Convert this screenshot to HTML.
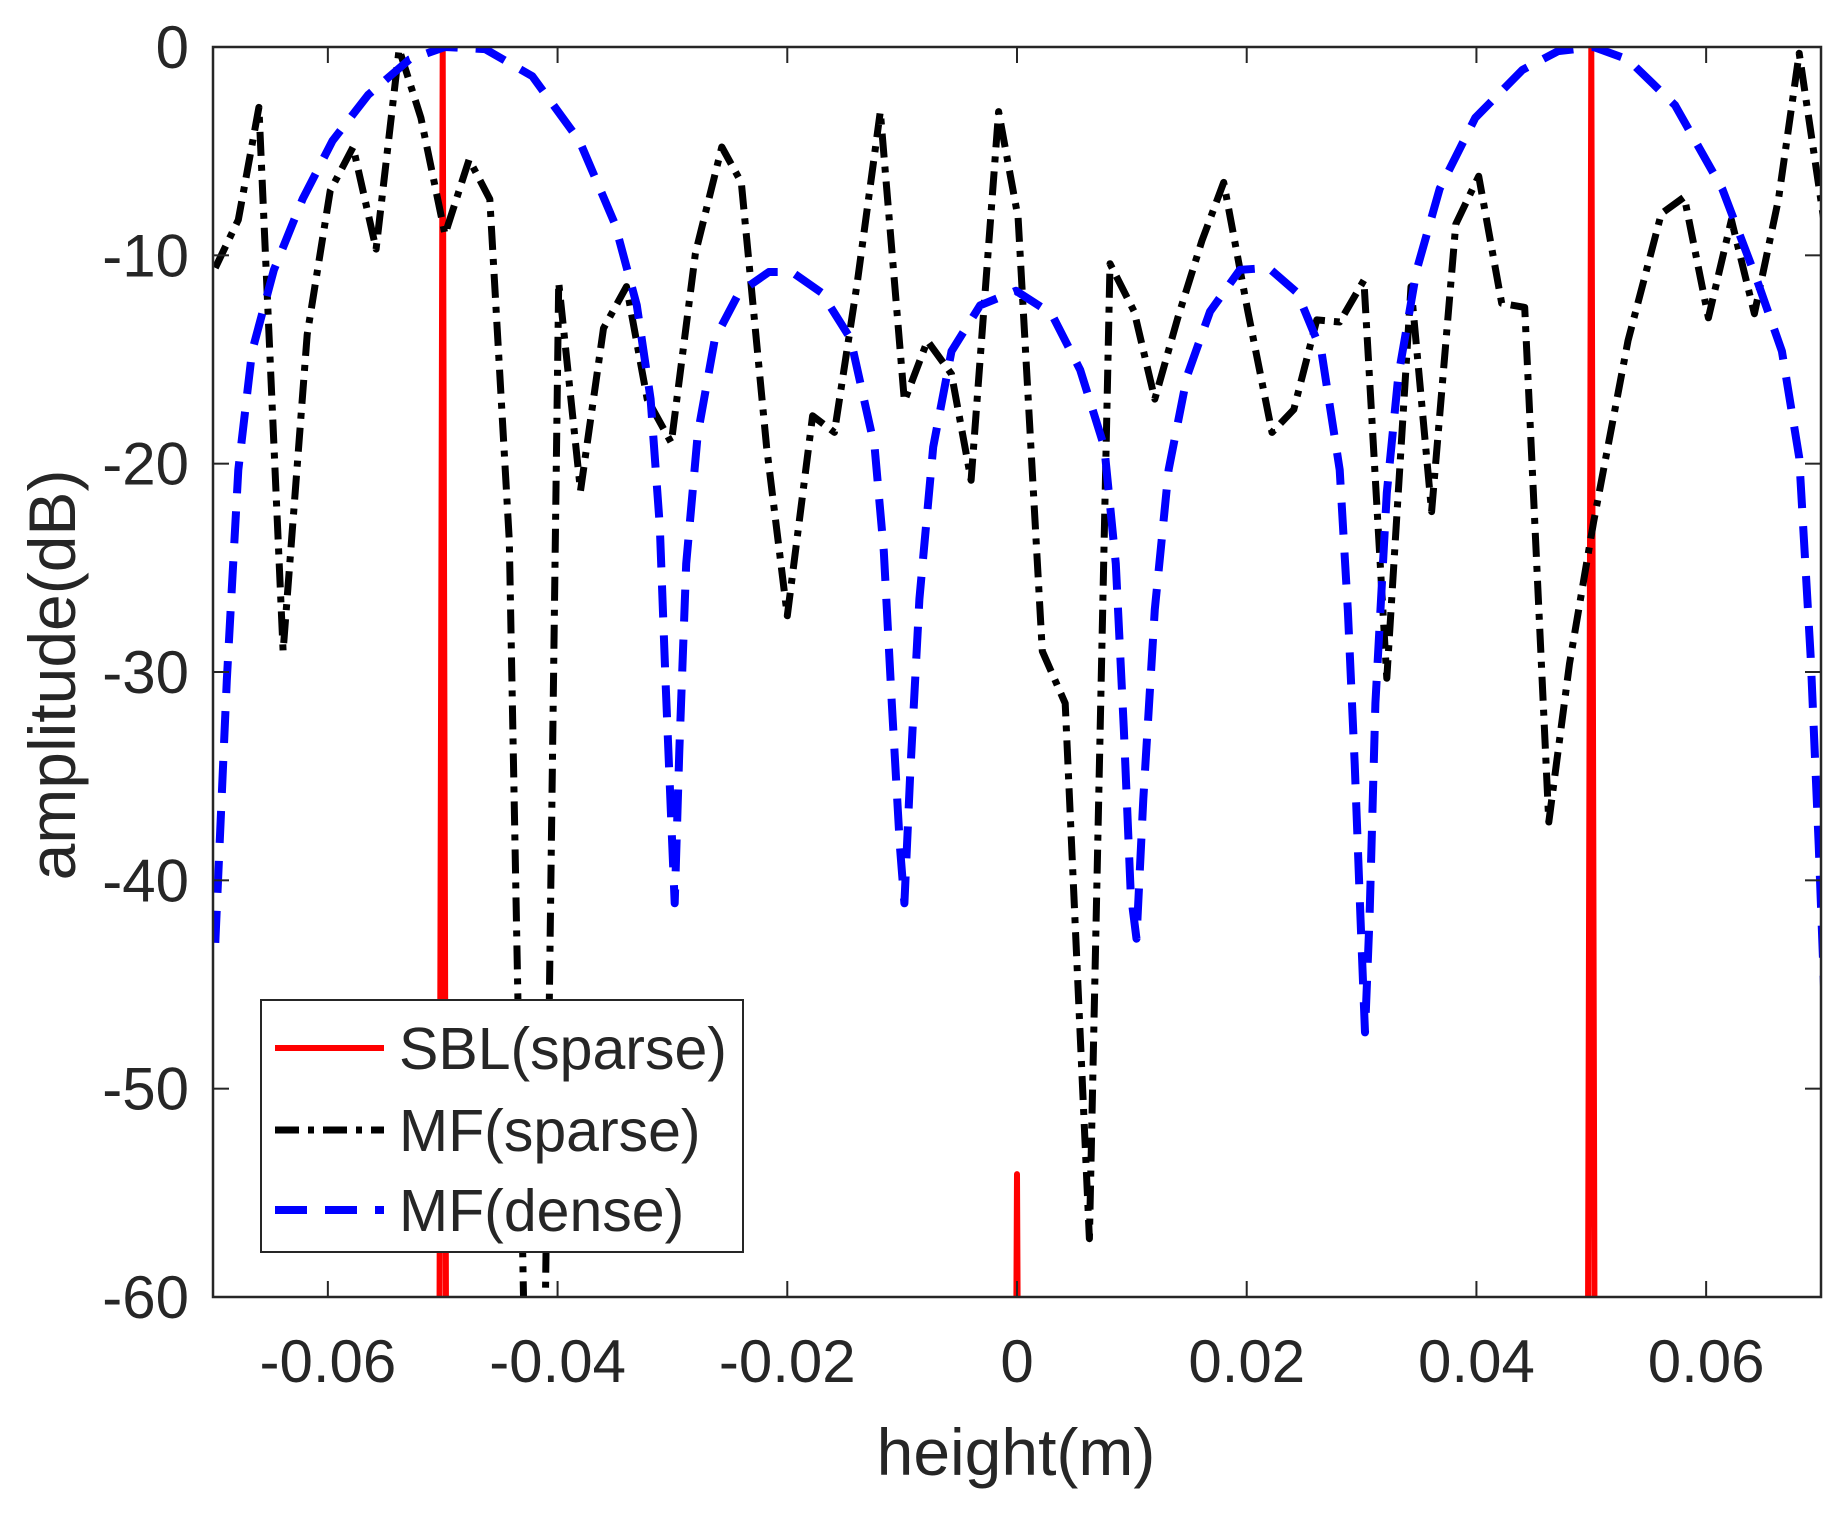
<!DOCTYPE html>
<html><head><meta charset="utf-8"><style>
html,body{margin:0;padding:0;background:#fff;}
svg text{font-family:"Liberation Sans",sans-serif;fill:#262626;}
</style></head><body>
<svg id="chart" width="1842" height="1512" xmlns="http://www.w3.org/2000/svg">
<defs><clipPath id="clip"><rect x="213" y="47" width="1608" height="1250"/></clipPath></defs>
<rect x="213" y="47" width="1608" height="1250" fill="#fff"/>
<g id="series" clip-path="url(#clip)"></g>
<rect x="213" y="47" width="1608" height="1250" fill="none" stroke="#262626" stroke-width="2.5"/>
<g id="ticks"></g>
<text x="1016" y="1475" font-size="66" text-anchor="middle">height(m)</text>
<text transform="translate(75,675) rotate(-90)" font-size="66" text-anchor="middle">amplitude(dB)</text>
<g>
<rect x="261" y="1000" width="482" height="252" fill="#fff" stroke="#262626" stroke-width="2"/>
<line x1="275" y1="1048" x2="384" y2="1048" stroke="#ff0000" stroke-width="6"/>
<text x="399" y="1069" font-size="59">SBL(sparse)</text>
<line x1="275" y1="1130" x2="384" y2="1130" stroke="#000" stroke-width="7" stroke-dasharray="24 9 6 9"/>
<text x="399" y="1151" font-size="59">MF(sparse)</text>
<line x1="275" y1="1210" x2="384" y2="1210" stroke="#0000ff" stroke-width="8" stroke-dasharray="32 18"/>
<text x="399" y="1231" font-size="59">MF(dense)</text>
</g>
</svg>
<script>
const xTicks=[-0.06,-0.04,-0.02,0,0.02,0.04,0.06];
const xTickLabels=["-0.06","-0.04","-0.02","0","0.02","0.04","0.06"];
const yTicks=[0,-10,-20,-30,-40,-50,-60];
const yTickLabels=["0","-10","-20","-30","-40","-50","-60"];
const sparseX=[-0.0698,-0.0678,-0.066,-0.0639,-0.0618,-0.0598,-0.0578,-0.0558,-0.0538,-0.0519,-0.0498,-0.0477,-0.0459,-0.0442,-0.0429,-0.0411,-0.0399,-0.038,-0.036,-0.034,-0.0322,-0.0301,-0.028,-0.0257,-0.024,-0.0218,-0.02,-0.0178,-0.0159,-0.0139,-0.0119,-0.0098,-0.0078,-0.0057,-0.004,-0.0016,0.0001,0.0022,0.0042,0.0063,0.0081,0.0102,0.012,0.014,0.0161,0.018,0.0201,0.0222,0.0241,0.0261,0.0281,0.0302,0.0322,0.0343,0.0361,0.0382,0.0402,0.0422,0.0442,0.0463,0.0481,0.0502,0.0532,0.0561,0.0581,0.0602,0.0622,0.0642,0.0663,0.0681,0.0703];
const sparseY=[-10.6,-8.3,-2.9,-29,-13.8,-6.9,-4.8,-9.7,-0.1,-3.4,-9,-5.4,-7.3,-23.7,-62,-62,-11.3,-21.3,-13.5,-11.5,-16.9,-19,-9.9,-4.8,-6.5,-19.2,-27.3,-17.7,-18.5,-11.3,-3.1,-17,-14.1,-15.7,-20.8,-3.1,-8.2,-29,-31.5,-57.2,-10.4,-12.7,-16.9,-13,-9.3,-6.5,-12.7,-18.5,-17.4,-13.1,-13.2,-11.2,-30.3,-11.5,-22.3,-8.5,-6.2,-12.3,-12.5,-37.2,-29.6,-22.8,-14.1,-8,-7.2,-13,-8.3,-12.8,-7.3,-0.3,-8.5];
const denseX=[-0.0698,-0.0688,-0.0678,-0.0666,-0.0647,-0.0622,-0.0596,-0.0565,-0.0529,-0.0498,-0.0463,-0.0422,-0.0381,-0.035,-0.0331,-0.0319,-0.0311,-0.0306,-0.0301,-0.0298,-0.0294,-0.0288,-0.0278,-0.0263,-0.0242,-0.0216,-0.0196,-0.017,-0.0145,-0.0124,-0.0116,-0.0109,-0.0102,-0.0098,-0.0093,-0.0085,-0.0073,-0.0057,-0.0032,-0.0001,0.003,0.0055,0.0076,0.0086,0.0093,0.0099,0.0104,0.011,0.012,0.0132,0.0148,0.0168,0.0194,0.0219,0.0244,0.0265,0.0281,0.0288,0.0294,0.0299,0.0303,0.0307,0.0312,0.0322,0.0332,0.0348,0.0368,0.0399,0.044,0.0471,0.0502,0.0532,0.0573,0.0614,0.0645,0.0666,0.0681,0.0691,0.0698,0.0703];
const denseY=[-43,-30.4,-20.3,-14.6,-10.7,-7.3,-4.5,-2.3,-0.6,0,-0.1,-1.4,-4.5,-8.5,-12.4,-16.9,-23,-30.4,-37.2,-41.1,-33.8,-24.8,-18.6,-14,-11.8,-10.8,-10.8,-11.8,-14,-19.2,-24.2,-31.5,-38.3,-41.1,-34.9,-26.5,-19.2,-14.6,-12.4,-11.7,-12.8,-15.5,-19.2,-24.8,-32.7,-40.6,-42.8,-36.1,-27,-20.3,-15.8,-12.7,-10.7,-10.6,-11.8,-14.6,-20.3,-27,-34.4,-41.7,-47.3,-41.7,-31.5,-21.4,-15.8,-10.7,-6.8,-3.4,-1.1,-0.2,0,-0.6,-2.8,-6.8,-11.3,-14.6,-19.7,-29.3,-38.3,-45.6];
const sblX=[-0.0503,-0.0500,-0.0497,-0.0001,0,0.0001,0.0497,0.0500,0.0503];
const sblY=[-65,0,-65,-65,-54.1,-65,-65,0,-65];

const L=213,R=1821,T=47,B=1297,xmin=-0.07,xmax=0.07,ymin=-60,ymax=0;
function xs(v){return L+(v-xmin)/(xmax-xmin)*(R-L);}
function ys(v){return T+(ymax-v)/(ymax-ymin)*(B-T);}
const NS='http://www.w3.org/2000/svg';
const ticks=document.getElementById('ticks');
xTicks.forEach((v,i)=>{
  const x=xs(v);
  const t1=document.createElementNS(NS,'line');
  t1.setAttribute('x1',x);t1.setAttribute('x2',x);t1.setAttribute('y1',B);t1.setAttribute('y2',B-16);
  t1.setAttribute('stroke','#262626');t1.setAttribute('stroke-width','2');
  
  
  ticks.appendChild(t1);
  const t2=document.createElementNS(NS,'line');
  t2.setAttribute('x1',x);t2.setAttribute('x2',x);t2.setAttribute('y1',T);t2.setAttribute('y2',T+16);
  t2.setAttribute('stroke','#262626');t2.setAttribute('stroke-width','2');
  
  
  ticks.appendChild(t2);
  const tx=document.createElementNS(NS,'text');
  tx.setAttribute('x',x);tx.setAttribute('y',B+85);tx.setAttribute('font-size','60');tx.setAttribute('text-anchor','middle');
  tx.textContent=xTickLabels[i];
  
  
  ticks.appendChild(tx);
});
yTicks.forEach((v,i)=>{
  const y=ys(v);
  const t1=document.createElementNS(NS,'line');
  t1.setAttribute('x1',L);t1.setAttribute('x2',L+16);t1.setAttribute('y1',y);t1.setAttribute('y2',y);
  t1.setAttribute('stroke','#262626');t1.setAttribute('stroke-width','2');
  
  
  ticks.appendChild(t1);
  const t2=document.createElementNS(NS,'line');
  t2.setAttribute('x1',R);t2.setAttribute('x2',R-16);t2.setAttribute('y1',y);t2.setAttribute('y2',y);
  t2.setAttribute('stroke','#262626');t2.setAttribute('stroke-width','2');
  
  
  ticks.appendChild(t2);
  const tx=document.createElementNS(NS,'text');
  tx.setAttribute('x',L-24);tx.setAttribute('y',y+21);tx.setAttribute('font-size','60');tx.setAttribute('text-anchor','end');
  tx.textContent=yTickLabels[i];
  
  
  ticks.appendChild(tx);
});
const series=document.getElementById('series');
function poly(X,Y,color,w,dash,name){
  const p=document.createElementNS(NS,'polyline');
  p.setAttribute('points',X.map((v,i)=>xs(v).toFixed(1)+','+ys(Y[i]).toFixed(1)).join(' '));
  p.setAttribute('fill','none');p.setAttribute('stroke',color);p.setAttribute('stroke-width',w);
  p.setAttribute('stroke-linejoin','round');
  if(dash)p.setAttribute('stroke-dasharray',dash);
  
  
  series.appendChild(p);
}
poly(sblX,sblY,'#ff0000',6,null,'sbl-sparse-line');
poly(sparseX,sparseY,'#000',7,'24 9 6 9','mf-sparse-line');
poly(denseX,denseY,'#0000ff',8,'32 18','mf-dense-line');
</script>
</body></html>
